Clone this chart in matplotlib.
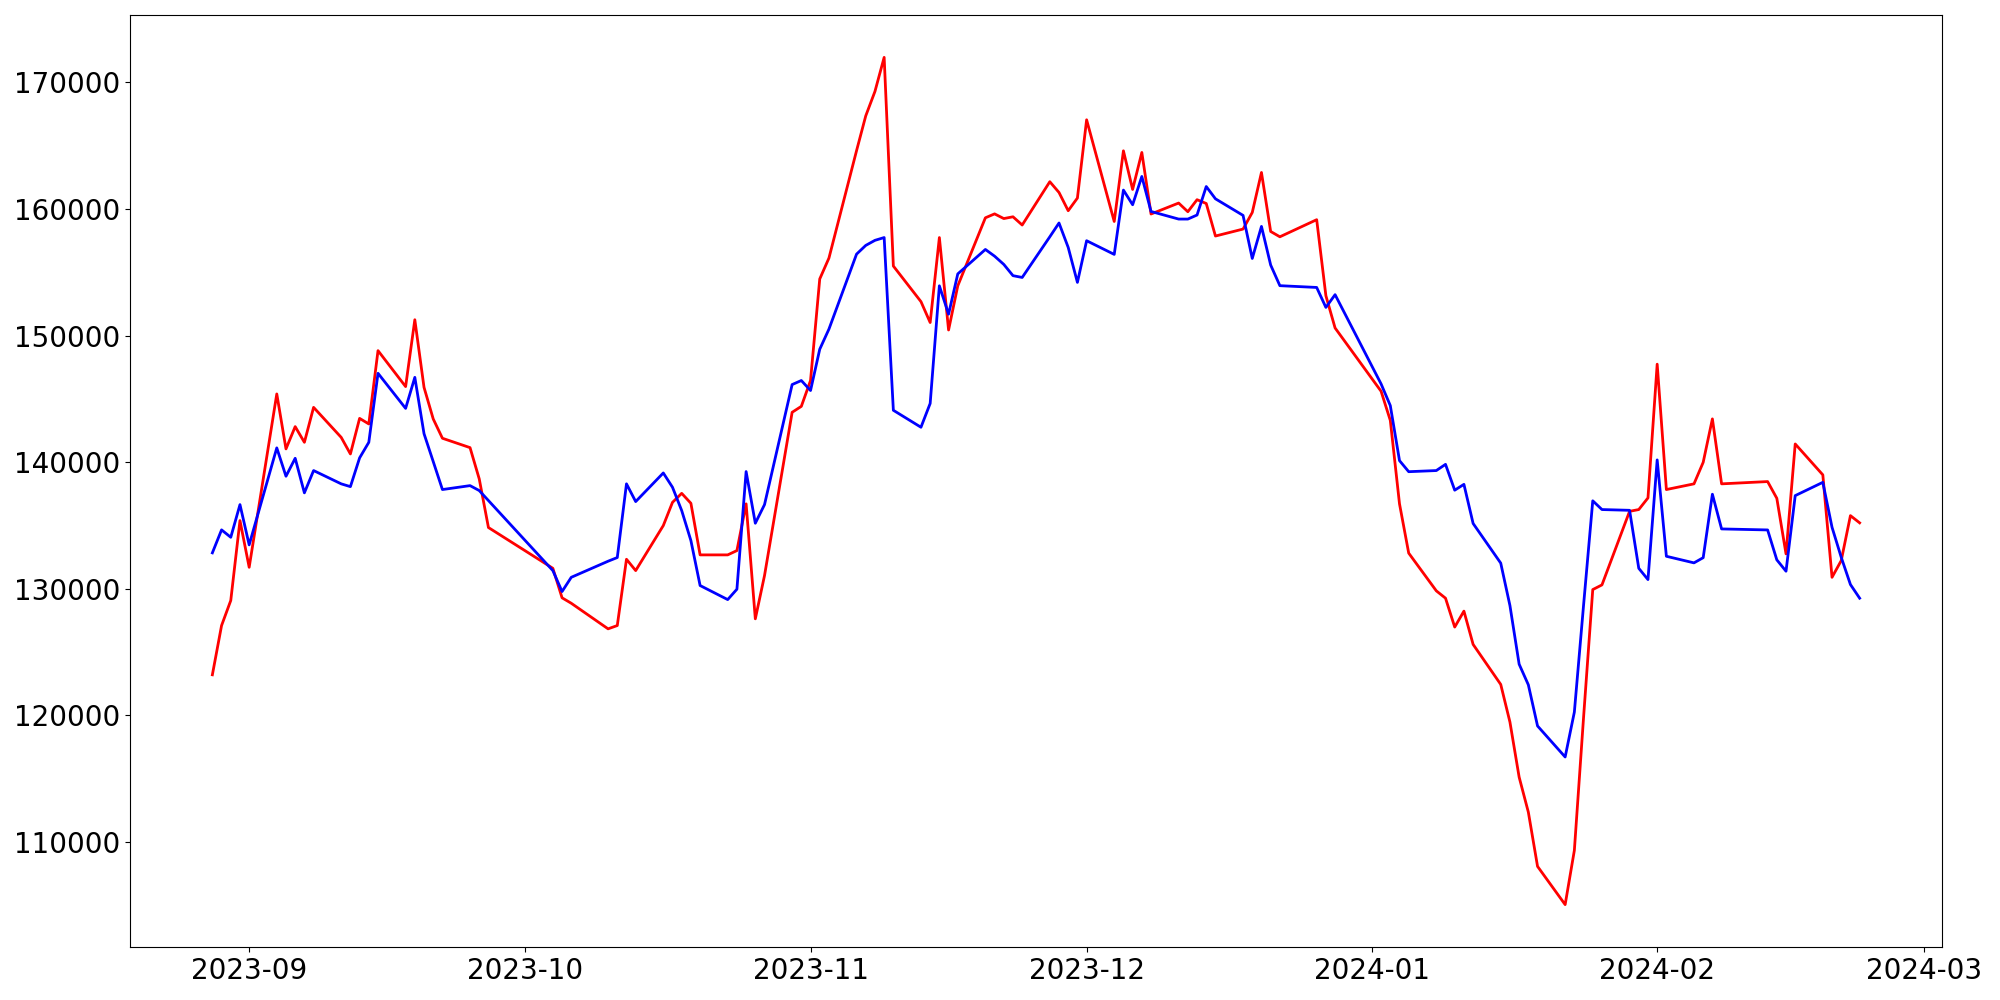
import pandas as pd
from matplotlib import pyplot as plt

# trading days (KRX calendar, holidays skipped)
dates = [
    '2023-08-28', '2023-08-29', '2023-08-30', '2023-08-31',
    '2023-09-01', '2023-09-04', '2023-09-05', '2023-09-06', '2023-09-07', '2023-09-08',
    '2023-09-11', '2023-09-12', '2023-09-13', '2023-09-14', '2023-09-15',
    '2023-09-18', '2023-09-19', '2023-09-20', '2023-09-21', '2023-09-22',
    '2023-09-25', '2023-09-26', '2023-09-27',
    '2023-10-04', '2023-10-05', '2023-10-06', '2023-10-10', '2023-10-11', '2023-10-12', '2023-10-13',
    '2023-10-16', '2023-10-17', '2023-10-18', '2023-10-19', '2023-10-20',
    '2023-10-23', '2023-10-24', '2023-10-25', '2023-10-26', '2023-10-27',
    '2023-10-30', '2023-10-31',
    '2023-11-01', '2023-11-02', '2023-11-03', '2023-11-06', '2023-11-07', '2023-11-08', '2023-11-09', '2023-11-10',
    '2023-11-13', '2023-11-14', '2023-11-15', '2023-11-16', '2023-11-17',
    '2023-11-20', '2023-11-21', '2023-11-22', '2023-11-23', '2023-11-24',
    '2023-11-27', '2023-11-28', '2023-11-29', '2023-11-30',
    '2023-12-01', '2023-12-04', '2023-12-05', '2023-12-06', '2023-12-07', '2023-12-08',
    '2023-12-11', '2023-12-12', '2023-12-13', '2023-12-14', '2023-12-15',
    '2023-12-18', '2023-12-19', '2023-12-20', '2023-12-21', '2023-12-22',
    '2023-12-26', '2023-12-27', '2023-12-28',
    '2024-01-02', '2024-01-03', '2024-01-04', '2024-01-05',
    '2024-01-08', '2024-01-09', '2024-01-10', '2024-01-11', '2024-01-12',
    '2024-01-15', '2024-01-16', '2024-01-17', '2024-01-18', '2024-01-19',
    '2024-01-22', '2024-01-23', '2024-01-24', '2024-01-25', '2024-01-26',
    '2024-01-29', '2024-01-30', '2024-01-31',
    '2024-02-01', '2024-02-02', '2024-02-05', '2024-02-06', '2024-02-07', '2024-02-08',
    '2024-02-13', '2024-02-14', '2024-02-15', '2024-02-16',
    '2024-02-19', '2024-02-20', '2024-02-21', '2024-02-22', '2024-02-23',
]

red_vals = [
    123210, 127100, 129080, 135390,
    131700, 145390, 141050, 142810, 141570, 144330,
    141960, 140650, 143460, 143020, 148810,
    145970, 151250, 145910, 143415, 141890,
    141150, 138680, 134840,
    131620, 129290, 128860, 126840, 127100, 132335, 131440,
    134995, 136830, 137540, 136755, 132680,
    132680, 133020, 136710, 127630, 131050,
    143940, 144410,
    146450, 154470, 156120, 164600, 167350, 169280, 171970, 155490,
    152680, 151030, 157740, 150440, 153930,
    159300, 159610, 159240, 159380, 158730,
    162150, 161300, 159860, 160860,
    167040, 159010, 164590, 161540, 164460, 159600,
    160465, 159780, 160730, 160430, 157860,
    158410, 159720, 162880, 158220, 157800,
    159150, 153150, 150600,
    145600, 143300, 136710, 132820,
    129840, 129260, 126980, 128240, 125610,
    122450, 119480, 115130, 112365, 108080,
    105060, 109340, 119840, 129940, 130310,
    136120, 136260, 137180,
    147740, 137840, 138290, 139990, 143420, 138290,
    138470, 137150, 132760, 141440,
    139000, 130910, 132230, 135780, 135210,
]

blue_vals = [
    132840, 134655, 134070, 136650,
    133470, 141130, 138890, 140310, 137580, 139340,
    138290, 138070, 140340, 141570, 147020,
    144250, 146700, 142250, 140050, 137840,
    138150, 137760, 136970,
    131440, 129785, 130910, 132180, 132470, 138290, 136890,
    139150, 138020, 136180, 133810, 130260,
    129150, 129970, 139260, 135180, 136650,
    146130, 146450,
    145660, 148920, 150510, 156430, 157120, 157520, 157740, 144100,
    142760, 144640, 153930, 151690, 154870,
    156800, 156270, 155620, 154730, 154590,
    157800, 158890, 156960, 154200,
    157490, 156410, 161490, 160330, 162565, 159800,
    159200, 159200, 159520, 161770, 160800,
    159490, 156090, 158620, 155570, 153940,
    153800, 152225, 153230,
    146180, 144470, 140125, 139250,
    139340, 139830, 137790, 138250, 135160,
    132030, 128680, 124050, 122420, 119170,
    116720, 120265, 128700, 136950, 136260,
    136200, 131620, 130730,
    140180, 132570, 132050, 132460, 137470, 134730,
    134650, 132290, 131390, 137360,
    138410, 134860, 132490, 130340, 129260,
]

df = pd.DataFrame({'red': red_vals, 'blue': blue_vals}, index=pd.to_datetime(dates))

fig = plt.figure(figsize=(20, 10), dpi=100)
plt.subplots_adjust(left=0.065, right=0.971, top=0.985, bottom=0.053)
plt.plot(df.index, df['red'], color='red', linewidth=2)
plt.plot(df.index, df['blue'], color='blue', linewidth=2)
plt.xticks(fontsize=20)
plt.yticks(fontsize=20)
plt.savefig('out.png')
